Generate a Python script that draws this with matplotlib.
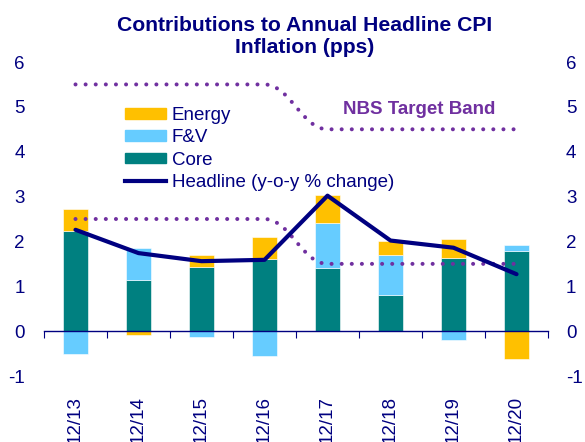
import numpy as np
import matplotlib
matplotlib.use("Agg")
import matplotlib.pyplot as plt
from matplotlib.path import Path
from matplotlib.patches import PathPatch, Patch
from matplotlib.lines import Line2D
from matplotlib.transforms import blended_transform_factory

plt.rcParams["font.family"] = ["Liberation Sans", "DejaVu Sans"]
plt.rcParams["axes.unicode_minus"] = False

NAVY = "#000080"
ENERGY_C = "#FFC000"
FV_C = "#66CCFF"
CORE_C = "#008080"
BAND_C = "#7030A0"

# ---- data ----
years = ["12/13", "12/14", "12/15", "12/16", "12/17", "12/18", "12/19", "12/20"]
core = [2.24, 1.15, 1.43, 1.60, 1.41, 0.80, 1.64, 1.78]
fv = [-0.51, 0.70, -0.13, -0.56, 1.00, 0.89, -0.20, 0.13]
energy = [0.48, -0.09, 0.26, 0.50, 0.63, 0.32, 0.41, -0.63]
headline = [2.26, 1.74, 1.56, 1.59, 3.02, 2.02, 1.86, 1.27]
band_upper = [5.5, 5.5, 5.5, 5.5, 4.5, 4.5, 4.5, 4.5]
band_lower = [2.5, 2.5, 2.5, 2.5, 1.5, 1.5, 1.5, 1.5]
yticks = [-1, 0, 1, 2, 3, 4, 5, 6]


def smooth_path(xs, ys):
    """Bezier path through the points with flat tangents (no overshoot)."""
    pts = np.column_stack([xs, ys]).astype(float)
    verts = [pts[0]]
    codes = [Path.MOVETO]
    for p1, p2 in zip(pts[:-1], pts[1:]):
        dx = (p2[0] - p1[0]) * 0.4
        verts += [(p1[0] + dx, p1[1]), (p2[0] - dx, p2[1]), p2]
        codes += [Path.CURVE4] * 3
    return Path(verts, codes)


fig = plt.figure(figsize=(5.85, 4.42), dpi=100)
ax = fig.add_axes([0.0752, 0.1493, 0.8616, 0.7104])
x = np.arange(len(years))

# stacked bars, positives up and negatives down
pos = np.zeros(len(x))
neg = np.zeros(len(x))
for vals, col in [(core, CORE_C), (fv, FV_C), (energy, ENERGY_C)]:
    v = np.array(vals)
    bottom = np.where(v >= 0, pos, neg)
    ax.bar(x, v, 0.4, bottom=bottom, color=col, edgecolor="white",
           linewidth=0.4, zorder=2)
    pos = pos + np.clip(v, 0, None)
    neg = neg + np.clip(v, None, 0)

# target band
for band in (band_upper, band_lower):
    patch = PathPatch(smooth_path(x, band), fill=False, edgecolor=BAND_C,
                      linewidth=2.9, linestyle=(0, (0.01, 2.5)),
                      capstyle="round", zorder=3)
    ax.add_patch(patch)

ax.plot(x, headline, color=NAVY, linewidth=3, zorder=4,
        solid_capstyle="round", solid_joinstyle="round")

ax.set_xlim(-0.5, len(x) - 0.5)
ax.set_ylim(-1, 6)
for s in ["top", "left", "right"]:
    ax.spines[s].set_visible(False)
ax.spines["bottom"].set_position(("data", 0))
ax.spines["bottom"].set_color(NAVY)
ax.spines["bottom"].set_linewidth(1)
ax.set_xticks(np.arange(len(x) + 1) - 0.5)
ax.tick_params(axis="x", direction="out", length=5, color=NAVY,
               labelbottom=False)
ax.set_yticks(yticks)
ax.tick_params(axis="y", length=0, pad=14, labelsize=13.5, labelcolor=NAVY)

trans = blended_transform_factory(ax.transData, ax.transAxes)
for xi, lab in zip(x, years):
    ax.text(xi, -0.064, lab, transform=trans, rotation=90, ha="center",
            va="top", fontsize=13.5, color=NAVY)

ax2 = ax.twinx()
ax2.set_ylim(-1, 6)
ax2.set_yticks(yticks)
for s in ["top", "left", "right", "bottom"]:
    ax2.spines[s].set_visible(False)
ax2.tick_params(axis="y", length=0, pad=13, labelsize=13.5, labelcolor=NAVY)

ax.text(5.45, 4.95, "NBS Target Band", color=BAND_C, fontsize=13.5,
        fontweight="bold", ha="center", va="center")

handles = [Patch(color=ENERGY_C), Patch(color=FV_C), Patch(color=CORE_C),
           Line2D([], [], color=NAVY, linewidth=3)]
labels = ["Energy", "F&V", "Core", "Headline (y-o-y % change)"]
leg = ax.legend(handles, labels, loc="upper left", bbox_to_anchor=(0.16, 0.856),
                frameon=False, fontsize=13.5, handlelength=2.2,
                handleheight=0.5, handletextpad=0.3, labelspacing=0.28,
                borderpad=0, borderaxespad=0)
for t in leg.get_texts():
    t.set_color(NAVY)

fig.text(0.521, 0.963, "Contributions to Annual Headline CPI\nInflation (pps)",
         ha="center", va="top", fontsize=15.2, fontweight="bold", color=NAVY,
         linespacing=1.2)

fig.savefig("out.png", dpi=100)
